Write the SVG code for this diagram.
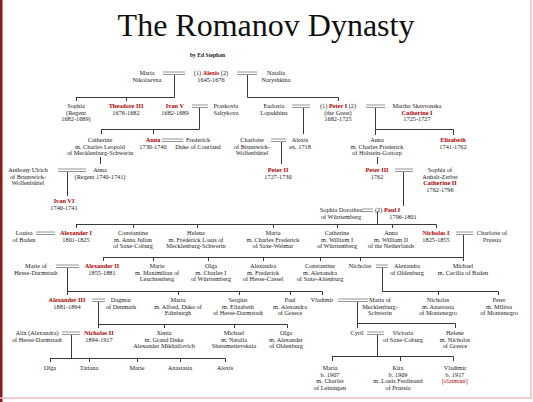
<svg xmlns="http://www.w3.org/2000/svg" width="533" height="402" viewBox="0 0 533 402">
<style>
text{font-family:"Liberation Serif","Times New Roman",serif;font-size:6.3px;fill:#1a1a1a;text-anchor:middle}
.r{fill:#b00000;font-weight:bold}
.title{font-size:32px;fill:#111}
.by{font-size:5.6px;font-weight:bold;text-anchor:start}
.c{fill:none;stroke:#3a3a3a;stroke-width:1}
.m{fill:none;stroke:#7a7a7a;stroke-width:0.8}
</style>
<rect x="0" y="0" width="533" height="402" fill="#fff"/>
<rect x="0" y="0" width="2.5" height="402" fill="#8a1c1c"/>
<path d="M531 0 V398 H0" fill="none" stroke="#ecbcc0" stroke-width="1.5"/>
<text class="title" x="266" y="36">The Romanov Dynasty</text>
<text class="by" x="190" y="57">by Ed Stephan</text>

<g id="connectors">
<path class="m" d="M163 72 H185 M163 74.5 H185 M237 72 H257 M237 74.5 H257 M192 105 H208 M192 107.5 H208 M292 105 H310 M292 107.5 H310 M366 105 H385 M366 107.5 H385 M162 139 H183 M162 141.5 H183 M271 139 H286 M271 141.5 H286 M58 169 H86 M58 171.5 H86 M395 169 H413 M395 171.5 H413 M362 209 H373 M362 211.5 H373 M36 232 H55 M36 234.5 H55 M456 232 H473 M456 234.5 H473 M56 265 H79 M56 267.5 H79 M376 265 H388 M376 267.5 H388 M92 299 H105 M92 301.5 H105 M338 299 H368 M338 301.5 H368 M62 332 H80 M62 334.5 H80 M367 332 H384 M367 334.5 H384"/>
<path class="c" d="M174.5 75 V97.5 M76 97.5 H174.5 M76.5 97.5 V101 M126.5 97.5 V101
M247.5 75 V97.5 H338.5 V101
M199.5 108 V129.5 M101 129.5 H199.5 M101.5 129.5 V134 M153.5 129.5 V134
M375.5 108 V135 M375.5 129.5 H453.5 V135
M303.5 108 V134
M100.5 157 V164 M377.5 157 V164
M281.5 142 V164
M67.5 172 V196
M403.5 172 V206
M377.5 212 V224.5 M76 224.5 H436.5 M76.5 224.5 V228 M133.5 224.5 V228 M197.5 224.5 V228 M273.5 224.5 V228 M337.5 224.5 V228 M392.5 224.5 V228 M436.5 224.5 V228
M463.5 235 V261 M103 257.5 H463.5 M103.5 257.5 V261 M153.5 257.5 V261 M208.5 257.5 V261 M263.5 257.5 V261 M320.5 257.5 V261 M360.5 257.5 V261
M67.5 268 V295 M67.5 291.5 H322.5 M178.5 291.5 V295 M239.5 291.5 V295 M290.5 291.5 V295 M322.5 291.5 V295
M382.5 268 V291.5 H498.5 M438.5 291.5 V295 M498.5 291.5 V295
M98.5 302 V328 M98.5 324.5 H287.5 M164.5 324.5 V328 M234.5 324.5 V328 M287.5 324.5 V328
M357.5 302 V328 M357.5 323.5 H455.5 V328
M71.5 335 V358.5 M50 358.5 H225.5 M50.5 358.5 V362 M89.5 358.5 V362 M137.5 358.5 V362 M180.5 358.5 V362 M225.5 358.5 V362
M377.5 335 V356.5 M332 356.5 H453.5 M332.5 356.5 V361 M400.5 356.5 V361 M453.5 356.5 V361"/>
</g>

<g id="maria-nikolaevna"><text x="147" y="75"><tspan x="147">Maria</tspan><tspan x="147" dy="6.6">Nikolaevna</tspan></text></g>
<g id="alexis-tsar"><text x="211" y="75"><tspan x="211">(1) <tspan class="r">Alexis</tspan> (2)</tspan><tspan x="211" dy="6.6">1645-1676</tspan></text></g>
<g id="natalia"><text x="276" y="75"><tspan x="276">Natalia</tspan><tspan x="276" dy="6.6">Naryshkina</tspan></text></g>

<g id="sophia-regent"><text x="76" y="108"><tspan x="76">Sophia</tspan><tspan x="76" dy="6.6">(Regent</tspan><tspan x="76" dy="6.6">1682-1689)</tspan></text></g>
<g id="theodore-iii"><text x="126" y="108"><tspan x="126" class="r">Theodore III</tspan><tspan x="126" dy="6.6">1676-1682</tspan></text></g>
<g id="ivan-v"><text x="175" y="108"><tspan x="175" class="r">Ivan V</tspan><tspan x="175" dy="6.6">1682-1689</tspan></text></g>
<g id="praskovia"><text x="226" y="108"><tspan x="226">Praskovia</tspan><tspan x="226" dy="6.6">Saltykova</tspan></text></g>
<g id="eudoxia"><text x="274" y="108"><tspan x="274">Eudoxia</tspan><tspan x="274" dy="6.6">Lopukhina</tspan></text></g>
<g id="peter-i"><text x="338" y="108"><tspan x="338">(1) <tspan class="r">Peter I</tspan> (2)</tspan><tspan x="338" dy="6.6">(the Great)</tspan><tspan x="338" dy="6.6">1682-1725</tspan></text></g>
<g id="martha"><text x="417" y="108"><tspan x="417">Martha Skavronska</tspan><tspan x="417" dy="6.6" class="r">Catherine I</tspan><tspan x="417" dy="6.6">1725-1727</tspan></text></g>

<g id="catherine-mecklenburg"><text x="100" y="142"><tspan x="100">Catherine</tspan><tspan x="100" dy="6.6">m. Charles Leopold</tspan><tspan x="100" dy="6.6">of Mecklenburg-Schwerin</tspan></text></g>
<g id="anna-1730"><text x="153" y="142"><tspan x="153" class="r">Anna</tspan><tspan x="153" dy="6.6">1730-1740</tspan></text></g>
<g id="frederick-courland"><text x="198" y="142"><tspan x="198">Frederick</tspan><tspan x="198" dy="6.6">Duke of Courland</tspan></text></g>
<g id="charlotte"><text x="252" y="142"><tspan x="252">Charlotte</tspan><tspan x="252" dy="6.6">of Brunswick-</tspan><tspan x="252" dy="6.6">Wolfenbüttel</tspan></text></g>
<g id="alexis-son"><text x="300" y="142"><tspan x="300">Alexis</tspan><tspan x="300" dy="6.6">ex. 1718</tspan></text></g>
<g id="anna-holstein"><text x="377" y="142"><tspan x="377">Anna</tspan><tspan x="377" dy="6.6">m. Charles Frederick</tspan><tspan x="377" dy="6.6">of Holstein-Gottorp</tspan></text></g>
<g id="elizabeth"><text x="453" y="142"><tspan x="453" class="r">Elizabeth</tspan><tspan x="453" dy="6.6">1741-1762</tspan></text></g>

<g id="anthony-ulrich"><text x="28" y="172"><tspan x="28">Anthony Ulrich</tspan><tspan x="28" dy="6.6">of Brunswick-</tspan><tspan x="28" dy="6.6">Wolfenbüttel</tspan></text></g>
<g id="anna-regent"><text x="100" y="172"><tspan x="100">Anna</tspan><tspan x="100" dy="6.6">(Regent 1740-1741)</tspan></text></g>
<g id="peter-ii"><text x="278" y="172"><tspan x="278" class="r">Peter II</tspan><tspan x="278" dy="6.6">1727-1730</tspan></text></g>
<g id="peter-iii"><text x="377" y="172"><tspan x="377" class="r">Peter III</tspan><tspan x="377" dy="6.6">1762</tspan></text></g>
<g id="catherine-ii"><text x="440" y="172"><tspan x="440">Sophia of</tspan><tspan x="440" dy="6.6">Anhalt-Zerbst</tspan><tspan x="440" dy="6.6" class="r">Catherine II</tspan><tspan x="440" dy="6.6">1762-1796</tspan></text></g>
<g id="ivan-vi"><text x="64" y="203"><tspan x="64" class="r">Ivan VI</tspan><tspan x="64" dy="6.6">1740-1741</tspan></text></g>

<g id="sophia-dorothea"><text x="341" y="212"><tspan x="341">Sophia Dorothea</tspan><tspan x="341" dy="6.6">of Württemberg</tspan></text></g>
<g id="paul-i"><text x="375" y="212" style="text-anchor:start">(2) <tspan class="r">Paul I</tspan></text><text x="403" y="218.6">1796-1801</text></g>

<g id="louisa"><text x="24" y="235"><tspan x="24">Louisa</tspan><tspan x="24" dy="6.6">of Baden</tspan></text></g>
<g id="alexander-i"><text x="76" y="235"><tspan x="76" class="r">Alexander I</tspan><tspan x="76" dy="6.6">1801-1825</tspan></text></g>
<g id="constantine-1"><text x="133" y="235"><tspan x="133">Constantine</tspan><tspan x="133" dy="6.6">m. Anna Julian</tspan><tspan x="133" dy="6.6">of Saxe-Coburg</tspan></text></g>
<g id="helena"><text x="196" y="235"><tspan x="196">Helena</tspan><tspan x="196" dy="6.6">m. Frederick Louis of</tspan><tspan x="196" dy="6.6">Mecklenburg-Schwerin</tspan></text></g>
<g id="maria-weimar"><text x="273" y="235"><tspan x="273">Maria</tspan><tspan x="273" dy="6.6">m. Charles Frederick</tspan><tspan x="273" dy="6.6">of Saxe-Weimar</tspan></text></g>
<g id="catherine-wurttemberg"><text x="337" y="235"><tspan x="337">Catherine</tspan><tspan x="337" dy="6.6">m. William I</tspan><tspan x="337" dy="6.6">of Württemberg</tspan></text></g>
<g id="anna-netherlands"><text x="391" y="235"><tspan x="391">Anna</tspan><tspan x="391" dy="6.6">m. William II</tspan><tspan x="391" dy="6.6">of the Netherlands</tspan></text></g>
<g id="nicholas-i"><text x="436" y="235"><tspan x="436" class="r">Nicholas I</tspan><tspan x="436" dy="6.6">1825-1855</tspan></text></g>
<g id="charlotte-prussia"><text x="492" y="235"><tspan x="492">Charlotte of</tspan><tspan x="492" dy="6.6">Prussia</tspan></text></g>

<g id="marie-hesse"><text x="36" y="268"><tspan x="36">Marie of</tspan><tspan x="36" dy="6.6">Hesse-Darmstadt</tspan></text></g>
<g id="alexander-ii"><text x="102" y="268"><tspan x="102" class="r">Alexander II</tspan><tspan x="102" dy="6.6">1855-1881</tspan></text></g>
<g id="marie-leuchtenberg"><text x="157" y="268"><tspan x="157">Marie</tspan><tspan x="157" dy="6.6">m. Maximilian of</tspan><tspan x="157" dy="6.6">Leuchtenberg</tspan></text></g>
<g id="olga-wurttemberg"><text x="211" y="268"><tspan x="211">Olga</tspan><tspan x="211" dy="6.6">m. Charles I</tspan><tspan x="211" dy="6.6">of Württemberg</tspan></text></g>
<g id="alexandra-hesse"><text x="263" y="268"><tspan x="263">Alexandra</tspan><tspan x="263" dy="6.6">m. Frederick</tspan><tspan x="263" dy="6.6">of Hesse-Cassel</tspan></text></g>
<g id="constantine-2"><text x="320" y="268"><tspan x="320">Constantine</tspan><tspan x="320" dy="6.6">m. Alexandra</tspan><tspan x="320" dy="6.6">of Saxe-Altenburg</tspan></text></g>
<g id="nicholas-1831"><text x="360" y="268">Nicholas</text></g>
<g id="alexandra-oldenburg"><text x="407" y="268"><tspan x="407">Alexandra</tspan><tspan x="407" dy="6.6">of Oldenburg</tspan></text></g>
<g id="michael-1832"><text x="463" y="268"><tspan x="463">Michael</tspan><tspan x="463" dy="6.6">m. Cecilia of Baden</tspan></text></g>

<g id="alexander-iii"><text x="67" y="302"><tspan x="67" class="r">Alexander III</tspan><tspan x="67" dy="6.6">1881-1894</tspan></text></g>
<g id="dagmar"><text x="121" y="302"><tspan x="121">Dagmar</tspan><tspan x="121" dy="6.6">of Denmark</tspan></text></g>
<g id="maria-edinburgh"><text x="178" y="302"><tspan x="178">Maria</tspan><tspan x="178" dy="6.6">m. Alfred, Duke of</tspan><tspan x="178" dy="6.6">Edinburgh</tspan></text></g>
<g id="sergius"><text x="238" y="302"><tspan x="238">Sergius</tspan><tspan x="238" dy="6.6">m. Elizabeth</tspan><tspan x="238" dy="6.6">of Hesse-Darmstadt</tspan></text></g>
<g id="paul"><text x="290" y="302"><tspan x="290">Paul</tspan><tspan x="290" dy="6.6">m. Alexandra</tspan><tspan x="290" dy="6.6">of Greece</tspan></text></g>
<g id="vladimir-1847"><text x="322" y="302">Vladimir</text></g>
<g id="maria-mecklenburg"><text x="380" y="302"><tspan x="380">Maria of</tspan><tspan x="380" dy="6.6">Mecklenburg-</tspan><tspan x="380" dy="6.6">Schwerin</tspan></text></g>
<g id="nicholas-1856"><text x="438" y="302"><tspan x="438">Nicholas</tspan><tspan x="438" dy="6.6">m. Anastasia</tspan><tspan x="438" dy="6.6">of Montenegro</tspan></text></g>
<g id="peter-1864"><text x="499" y="302"><tspan x="499">Peter</tspan><tspan x="499" dy="6.6">m. Militsa</tspan><tspan x="499" dy="6.6">of Montenegro</tspan></text></g>

<g id="alix"><text x="37" y="335"><tspan x="37">Alix (Alexandra)</tspan><tspan x="37" dy="6.6">of Hesse-Darmstadt</tspan></text></g>
<g id="nicholas-ii"><text x="99" y="335"><tspan x="99" class="r">Nicholas II</tspan><tspan x="99" dy="6.6">1894-1917</tspan></text></g>
<g id="xenia"><text x="164" y="335"><tspan x="164">Xenia</tspan><tspan x="164" dy="6.6">m. Grand Duke</tspan><tspan x="164" dy="6.6">Alexander Mikhailovich</tspan></text></g>
<g id="michael-1878"><text x="234" y="335"><tspan x="234">Michael</tspan><tspan x="234" dy="6.6">m. Natalia</tspan><tspan x="234" dy="6.6">Sheremetievskaia</tspan></text></g>
<g id="olga-oldenburg"><text x="286" y="335"><tspan x="286">Olga</tspan><tspan x="286" dy="6.6">m. Alexander</tspan><tspan x="286" dy="6.6">of Oldenburg</tspan></text></g>
<g id="cyril"><text x="357" y="335">Cyril</text></g>
<g id="victoria"><text x="403" y="335"><tspan x="403">Victoria</tspan><tspan x="403" dy="6.6">of Saxe-Coburg</tspan></text></g>
<g id="helene"><text x="455" y="335"><tspan x="455">Helene</tspan><tspan x="455" dy="6.6">m. Nicholas</tspan><tspan x="455" dy="6.6">of Greece</tspan></text></g>

<g id="olga"><text x="50" y="370">Olga</text></g>
<g id="tatiana"><text x="89" y="370">Tatiana</text></g>
<g id="marie"><text x="137" y="370">Marie</text></g>
<g id="anastasia"><text x="180" y="370">Anastasia</text></g>
<g id="alexis-1904"><text x="225" y="370">Alexis</text></g>
<g id="maria-1907"><text x="330" y="370"><tspan x="330">Maria</tspan><tspan x="330" dy="6.6">b. 1907</tspan><tspan x="330" dy="6.6">m. Charles</tspan><tspan x="330" dy="6.6">of Leiningen</tspan></text></g>
<g id="kira"><text x="398" y="370"><tspan x="398">Kira</tspan><tspan x="398" dy="6.6">b. 1909</tspan><tspan x="398" dy="6.6">m. Louis Ferdinand</tspan><tspan x="398" dy="6.6">of Prussia</tspan></text></g>
<g id="vladimir-1917"><text x="455" y="370"><tspan x="455">Vladimir</tspan><tspan x="455" dy="6.6">b. 1917</tspan><tspan x="455" dy="6.6" class="r" style="font-weight:normal">[claimant]</tspan></text></g>
</svg>
